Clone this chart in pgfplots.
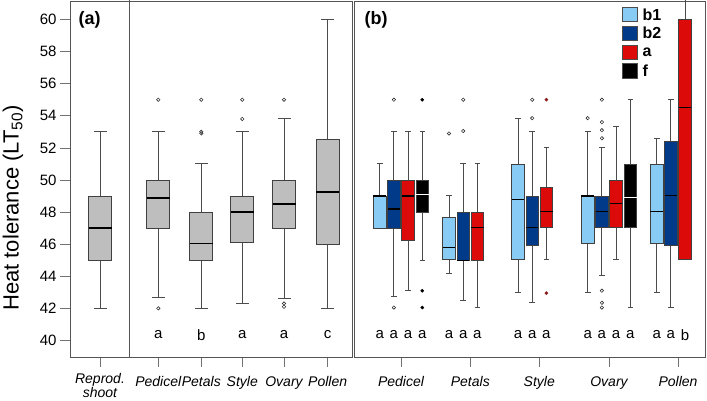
\documentclass[border=0pt]{standalone}
\usepackage{pgfplots}
\pgfplotsset{compat=1.18}
\usepackage{fontspec}
\setmainfont{Liberation Sans}
\definecolor{cb1}{HTML}{88CCF5}
\definecolor{cb2}{HTML}{023A8A}
\definecolor{ca}{HTML}{DD0A0A}
\definecolor{cf}{HTML}{000000}
\definecolor{cgrey}{HTML}{BEBEBE}
\definecolor{frame}{HTML}{555555}
\definecolor{dred}{HTML}{8B1A1A}
\def\medc{black}
% box from its five numbers: #1 position, #2 fill, #3 lower whisker, #4 q1, #5 median, #6 q3, #7 upper whisker
\newcommand{\BX}[7]{%
  \pgfmathsetmacro\bxL{#1-\hw}\pgfmathsetmacro\bxR{#1+\hw}%
  \pgfmathsetmacro\bxCL{#1-\cw}\pgfmathsetmacro\bxCR{#1+\cw}%
  \edef\doit{%
  \noexpand\addplot[draw=black!70, line width=1pt, mark=none] coordinates {(#1,#3) (#1,#4)};
  \noexpand\addplot[draw=black!70, line width=1pt, mark=none] coordinates {(#1,#6) (#1,#7)};
  \noexpand\addplot[draw=black!70, line width=1pt, mark=none] coordinates {(\bxCL,#3) (\bxCR,#3)};
  \noexpand\addplot[draw=black!70, line width=1pt, mark=none] coordinates {(\bxCL,#7) (\bxCR,#7)};
  \noexpand\addplot[draw=black!75, line width=0.8pt, fill=#2, mark=none] coordinates {(\bxL,#4) (\bxR,#4) (\bxR,#6) (\bxL,#6)} -- cycle;
  \noexpand\addplot[draw=\medc, line width=1.4pt, mark=none] coordinates {(\bxL,#5) (\bxR,#5)};
  }\doit}
\pgfplotsset{
  panel/.style={scale only axis, anchor=south west, height=356pt,
    ymin=38.97, ymax=61.15,
    axis line style={draw=frame, line width=0.8pt},
    tick align=outside, major tick length=10pt,
    tick style={draw=black!55, line width=0.6pt},
    xtick pos=bottom, ytick pos=left,
    ticklabel style={font=\fontsize{15}{17}\selectfont},
    xticklabel style={font=\fontsize{14}{14}\selectfont\itshape, align=center, yshift=-6pt},
    /pgf/number format/assume math mode=true,
    clip=true},
  outl/.style={only marks, mark=o, mark size=1.7pt, mark options={draw=black!80, line width=0.6pt}},
}
\begin{document}
\begin{tikzpicture}
\useasboundingbox (0pt,0pt) rectangle (707pt,400pt);
% ---------------- panel (a)
\def\hw{11.5}\def\cw{6.5}
\begin{axis}[panel, at={(70pt,43pt)}, width=282.7pt, xmin=70, xmax=352.7,
  ytick={40,42,...,60},
  xtick={100,158.3,201.3,242.3,284,327.7},
  xticklabels={{},Pedicel,Petals,Style,Ovary,Pollen}]
\BX{100}{cgrey}{42}{45}{47}{49}{53}
\BX{158.3}{cgrey}{42.7}{47}{48.87}{50}{53}
\BX{201.3}{cgrey}{42}{45}{46.05}{48}{51}
\BX{242.3}{cgrey}{42.3}{46.1}{48}{49}{53}
\BX{284}{cgrey}{42.6}{47}{48.5}{50}{53.8}
\BX{327.7}{cgrey}{42}{46}{49.25}{52.5}{60}
\addplot[outl] coordinates {(158.3,55) (158.3,42) (201.3,55) (201.3,53.0) (201.3,52.9)
  (242.3,55) (242.3,53.8) (284,55) (284,42.3) (284,42.1)};
\addplot[draw=frame, line width=0.8pt, mark=none] coordinates {(129.3,30) (129.3,70)};
\node[font=\fontsize{15}{15}\selectfont] at (axis cs:158.3,40.35) {a};
\node[font=\fontsize{15}{15}\selectfont] at (axis cs:201.3,40.35) {b};
\node[font=\fontsize{15}{15}\selectfont] at (axis cs:242.3,40.35) {a};
\node[font=\fontsize{15}{15}\selectfont] at (axis cs:284,40.35) {a};
\node[font=\fontsize{15}{15}\selectfont] at (axis cs:327.7,40.35) {c};
\end{axis}
\node[align=center, font=\fontsize{14}{14}\selectfont\itshape] at (100pt,14.5pt) {Reprod.\\shoot};
\node[anchor=west, font=\fontsize{18}{18}\selectfont\bfseries] at (75pt,380pt) {(a)};
\node[rotate=90, font=\fontsize{22}{22}\selectfont] at (13pt,192pt) {Heat tolerance (LT\textsubscript{50})};
% ---------------- panel (b)
\def\hw{6.25}\def\cw{2.8}
\begin{axis}[panel, at={(354.3pt,43pt)}, width=350.7pt, xmin=354.3, xmax=705,
  ytick=\empty,
  xtick={401,470.3,539.3,609,678},
  xticklabels={Pedicel,Petals,Style,Ovary,Pollen}]
% Pedicel
\BX{379.7}{cb1}{47}{47}{49}{49}{51}
\BX{393.9}{cb2}{42.75}{47}{48.2}{50}{53}
\BX{408.1}{ca}{43.1}{46.25}{49}{50}{53}
\def\medc{white}
\BX{422.3}{cf}{45}{48}{49.1}{50}{53}
\def\medc{black}
% Petals
\BX{449}{cb1}{44.2}{45.05}{45.8}{47.65}{49.05}
\BX{463.2}{cb2}{42.5}{45}{45}{48}{51}
\BX{477.4}{ca}{42.05}{45}{47.05}{48}{51}
% Style
\BX{518}{cb1}{43}{45.05}{48.8}{51}{53.85}
\BX{532.2}{cb2}{42.35}{45.9}{47.05}{49}{53}
\BX{546.4}{ca}{45.05}{47.05}{48.05}{49.55}{52.05}
% Ovary
\BX{587.7}{cb1}{43}{46.05}{49}{49}{53}
\BX{601.9}{cb2}{44.05}{47.05}{48.05}{49}{52.05}
\BX{616.1}{ca}{45.05}{47.05}{48.55}{50}{53.35}
\def\medc{white}
\BX{630.3}{cf}{42.05}{47.05}{48.9}{51}{55}
\def\medc{black}
% Pollen
\BX{656.7}{cb1}{43}{46.05}{48.05}{51}{52.6}
\BX{670.9}{cb2}{42.05}{45.95}{49.05}{52.4}{55}
\BX{685.1}{ca}{45.05}{45.05}{54.5}{60}{63}
% outliers
\addplot[outl] coordinates {(393.9,55) (393.9,42.05) (449,52.9) (463.2,55) (463.2,53.05)
  (532.2,55) (532.2,53.85) (587.7,53.85) (601.9,55) (601.9,53.6) (601.9,53.1) (601.9,52.6)
  (601.9,43.1) (601.9,42.35) (601.9,42.05)};
\addplot[only marks, mark=*, mark size=1.6pt, mark options={fill=black, draw=black}] coordinates {(422.3,55) (422.3,43.1) (422.3,42.05)};
\addplot[only marks, mark=*, mark size=1.6pt, mark options={fill=dred, draw=dred}] coordinates {(546.4,55) (546.4,42.95)};
\foreach \p/\l in {379.7/a,393.9/a,408.1/a,422.3/a,449/a,463.2/a,477.4/a,518/a,532.2/a,546.4/a,587.7/a,601.9/a,616.1/a,630.3/a,656.7/a,670.9/a,685.1/b}{
  \edef\tmp{\noexpand\node[font=\noexpand\fontsize{15}{15}\noexpand\selectfont] at (axis cs:\p,40.35) {\l};}\tmp}
\end{axis}
\node[anchor=west, font=\fontsize{18}{18}\selectfont\bfseries] at (361pt,380pt) {(b)};
% legend
\foreach \c/\t/\yy in {cb1/b1/7.3, cb2/b2/26, ca/a/45, cf/f/63.7}{
  \draw[black!70, line width=0.6pt, fill=\c] (622.7pt,{400pt-\yy pt}) rectangle (637.3pt,{400pt-\yy pt-14.5pt});
  \node[anchor=west, font=\fontsize{16}{16}\selectfont\bfseries, inner sep=0pt] at (642.5pt,{400pt-\yy pt-7.2pt}) {\t};
}
\end{tikzpicture}
\end{document}
